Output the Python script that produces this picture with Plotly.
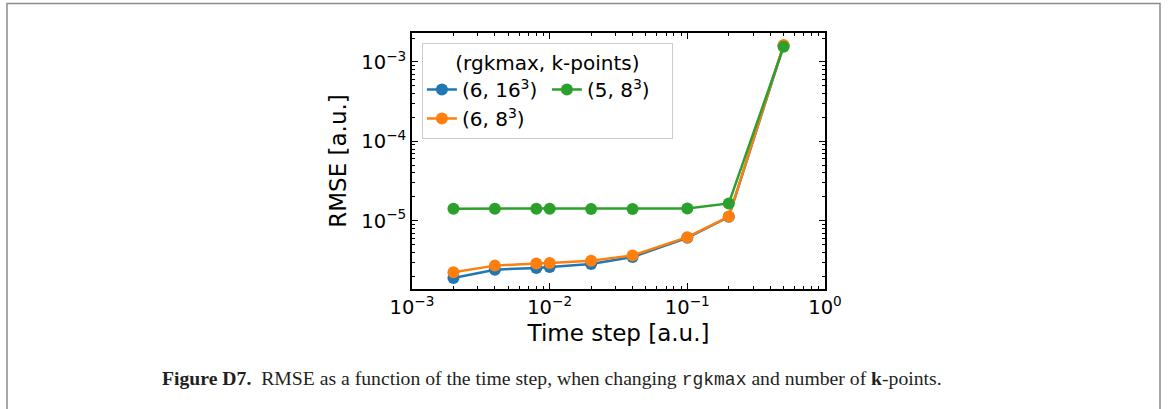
import plotly.graph_objects as go

# ---- data ----
time_step = [0.002, 0.004, 0.008, 0.01, 0.02, 0.04, 0.1, 0.2, 0.5]
rmse_6_16 = [1.90e-6, 2.42e-6, 2.54e-6, 2.61e-6, 2.85e-6, 3.49e-6, 6.1e-6, 1.12e-5, 1.60e-3]
rmse_6_8 = [2.24e-6, 2.72e-6, 2.90e-6, 2.93e-6, 3.14e-6, 3.66e-6, 6.2e-6, 1.13e-5, 1.64e-3]
rmse_5_8 = [1.42e-5, 1.42e-5, 1.42e-5, 1.42e-5, 1.41e-5, 1.41e-5, 1.43e-5, 1.65e-5, 1.55e-3]

series_names = ["(6, 16<sup>3</sup>)", "(6, 8<sup>3</sup>)", "(5, 8<sup>3</sup>)"]
series_colors = ["#1f77b4", "#ff7f0e", "#2ca02c"]
series_groups = ["a", "a", "b"]

x_tickvals = [1e-3, 1e-2, 1e-1, 1e0]
x_ticktext = ["10<sup>−3</sup>", "10<sup>−2</sup>", "10<sup>−1</sup>", "10<sup>0</sup>"]
y_tickvals = [1e-5, 1e-4, 1e-3]
y_ticktext = ["10<sup>−5</sup>", "10<sup>−4</sup>", "10<sup>−3</sup>"]

legend_title = "(rgkmax, k-points)"
x_title = "Time step [a.u.]"
y_title = "RMSE [a.u.]"
caption = ("<b>Figure D7.</b>  RMSE as a function of the time step, when changing "
           "<span style='font-family:Liberation Mono;font-size:18px'>rgkmax</span> and number of <b>k</b>-points.")

FONT = "DejaVu Sans"

fig = go.Figure()
for ys, name, col, grp in zip([rmse_6_16, rmse_6_8, rmse_5_8], series_names, series_colors, series_groups):
    fig.add_trace(go.Scatter(
        x=time_step, y=ys, name=name, mode="lines+markers",
        line=dict(color=col, width=2.5),
        marker=dict(color=col, size=12),
        legendgroup=grp,
    ))

minor_x = [m * 10 ** e for e in range(-3, 0) for m in range(2, 10)]
minor_y = [m * 10 ** e for e in range(-6, -2) for m in range(2, 10)]

axis_common = dict(
    type="log", showgrid=False, zeroline=False,
    showline=True, linecolor="black", linewidth=1.6, mirror="allticks",
    ticks="inside", ticklen=6, tickwidth=1.3, tickcolor="black",
    tickfont=dict(family=FONT, size=19.5, color="black"),
)

fig.update_xaxes(
    **axis_common, range=[-3, 0], tickmode="array", tickvals=x_tickvals, ticktext=x_ticktext,
    minor=dict(ticks="inside", ticklen=3.5, tickwidth=1, tickcolor="black", tickmode="array", tickvals=minor_x),
    title=dict(text=x_title, font=dict(family=FONT, size=23, color="black"), standoff=7),
)
fig.update_yaxes(
    **axis_common, range=[-5.86, -2.635], tickmode="array", tickvals=y_tickvals, ticktext=y_ticktext,
    minor=dict(ticks="inside", ticklen=3.5, tickwidth=1, tickcolor="black", tickmode="array", tickvals=minor_y),
    title=dict(text=y_title, font=dict(family=FONT, size=23, color="black"), standoff=8),
)

fig.update_layout(
    width=1174, height=409,
    margin=dict(l=412, r=349, t=33, b=120),
    paper_bgcolor="white", plot_bgcolor="white",
    font=dict(family=FONT, color="black"),
    legend=dict(
        orientation="h", traceorder="grouped",
        entrywidth=80, entrywidthmode="pixels",
        title=dict(text=legend_title, side="top center", font=dict(family=FONT, size=20, color="black")),
        font=dict(family=FONT, size=20, color="black"),
        x=0.024, y=0.961, xanchor="left", yanchor="top",
        bgcolor="rgba(255,255,255,0.8)", bordercolor="#cccccc", borderwidth=1,
    ),
    showlegend=True,
)

# page frame
fig.add_shape(type="rect", xref="paper", yref="paper",
              x0=(7 - 412) / 413, x1=(1160 - 412) / 413,
              y0=(289 - 420) / 256, y1=(289 - 3.5) / 256,
              line=dict(color="#8c8c8c", width=1.5), fillcolor="rgba(0,0,0,0)", layer="below")

# caption
fig.add_annotation(text=caption, xref="paper", yref="paper",
                   x=(160 - 412) / 413, y=(289 - 378) / 256, xanchor="left", yanchor="middle",
                   showarrow=False, font=dict(family="Liberation Serif", size=19.7, color="#231f20"))

fig.write_html("out.html")
